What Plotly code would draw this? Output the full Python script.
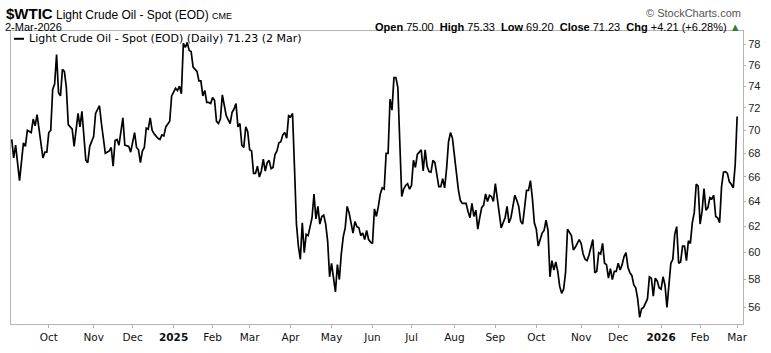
import math
import pandas as pd
import plotly.graph_objects as go

# ---- data ----
holidays = ["2024-11-28", "2024-12-25", "2025-01-01", "2025-01-09", "2025-01-20",
            "2025-02-17", "2025-04-18", "2025-05-26", "2025-06-19", "2025-07-04",
            "2025-09-01", "2025-11-27", "2025-12-25", "2026-01-01", "2026-01-19",
            "2026-02-16"]

# trading-session number counted from 4-Sep-2024 (session 0)
session_idx = [
    0, 1, 2, 4, 6, 7, 8, 10, 11, 12, 13, 16, 17, 18, 19, 20, 21, 22, 23, 24,
    25, 26, 27, 28, 29, 31, 32, 34, 35, 36, 38, 39, 40, 42, 43, 44, 45, 46, 48, 50,
    51, 52, 53, 54, 55, 57, 58, 60, 61, 63, 64, 65, 66, 67, 68, 69, 70, 71, 72, 73,
    74, 75, 76, 77, 78, 79, 81, 82, 84, 85, 86, 87, 88, 89, 90, 91, 92, 93, 95, 96,
    97, 98, 99, 100, 101, 102, 103, 104, 105, 106, 107, 108, 110, 111, 112, 113, 114, 115, 116, 117,
    118, 119, 120, 121, 122, 123, 124, 125, 126, 127, 128, 129, 130, 131, 132, 133, 134, 135, 136, 137,
    138, 139, 140, 141, 142, 143, 144, 145, 146, 147, 148, 149, 150, 151, 152, 154, 155, 156, 157, 158,
    159, 160, 161, 162, 163, 164, 165, 166, 167, 168, 169, 170, 171, 172, 173, 175, 176, 177, 178, 179,
    180, 181, 182, 183, 184, 185, 186, 187, 188, 189, 190, 191, 192, 193, 194, 195, 196, 197, 198, 199,
    200, 201, 202, 203, 204, 205, 206, 207, 208, 209, 210, 211, 212, 213, 214, 215, 216, 217, 218, 219,
    220, 221, 222, 223, 224, 225, 226, 227, 228, 229, 230, 231, 233, 234, 235, 236, 237, 238, 239, 240,
    241, 242, 243, 244, 245, 246, 247, 248, 249, 250, 251, 252, 253, 254, 255, 256, 257, 258, 259, 260,
    261, 262, 263, 264, 265, 266, 267, 268, 269, 270, 271, 272, 273, 274, 275, 276, 277, 278, 279, 280,
    281, 282, 283, 284, 285, 286, 287, 288, 289, 290, 291, 292, 293, 294, 295, 296, 298, 299, 300, 301,
    302, 303, 304, 305, 306, 307, 308, 309, 310, 311, 312, 313, 314, 315, 316, 317, 318, 319, 320, 321,
    322, 323, 324, 326, 327, 328, 329, 330, 331, 332, 333, 334, 335, 336, 337, 338, 339, 340, 341, 342,
    343, 344, 345, 346, 347, 348, 349, 350, 351, 352, 353, 354, 355, 356, 357, 358, 359, 360, 361, 362,
    363, 364, 365, 366, 367, 368, 369, 370, 371, 372,
]

close = [
    69.2, 67.6, 68.7, 65.7, 68.9, 68.6, 70.0, 69.8, 71.0, 70.4, 71.4, 67.6, 68.1, 68.1, 69.8, 70.0, 73.7, 74.2, 77.0, 73.4,
    73.1, 75.6, 75.4, 73.9, 70.5, 70.1, 68.6, 71.5, 70.3, 71.7, 67.4, 67.2, 68.6, 69.45, 71.5, 71.8, 72.2, 70.6, 68.0, 68.2,
    68.5, 66.9, 69.1, 69.2, 68.7, 71.1, 68.7, 68.6, 68.1, 69.8, 68.5, 68.3, 67.2, 68.2, 68.5, 70.2, 70.1, 71.1, 70.0, 69.7,
    69.45, 69.3, 69.2, 69.6, 69.5, 70.3, 70.8, 73.1, 73.8, 73.6, 74.0, 73.3, 78.1, 77.7, 78.2, 77.4, 77.3, 75.8, 75.4, 74.5,
    74.5, 73.1, 73.6, 72.5, 72.5, 72.4, 72.96, 72.7, 70.8, 70.6, 71.0, 73.2, 71.3, 71.0, 70.6, 71.6, 71.9, 72.4, 70.3, 70.6,
    68.7, 68.5, 70.3, 69.9, 68.3, 68.2, 66.3, 66.3, 66.9, 66.0, 66.5, 67.5, 66.5, 67.2, 67.4, 66.7, 66.8, 67.9, 68.2, 68.9,
    69.0, 69.6, 69.8, 69.3, 71.3, 71.2, 71.5, 66.8, 62.2, 60.5, 59.5, 62.3, 60.0, 61.4, 61.3, 62.7, 64.6, 62.6, 63.6, 62.2,
    62.8, 62.9, 62.2, 60.9, 58.2, 59.2, 58.2, 57.1, 59.1, 58.0, 59.9, 61.2, 61.9, 63.6, 63.1, 61.5, 62.4, 62.0, 61.9, 61.3,
    61.5, 61.0, 61.7, 61.0, 60.8, 60.7, 63.4, 62.8, 63.6, 64.6, 65.1, 65.0, 68.0, 68.0, 72.8, 71.8, 74.8, 74.8, 73.9, 68.9,
    64.4, 65.0, 65.3, 65.45, 65.0, 65.3, 67.4, 66.8, 67.9, 68.1, 68.3, 66.5, 68.3, 66.9, 66.45, 66.4, 67.4, 67.2, 66.1, 65.2,
    65.2, 65.85, 65.1, 66.7, 69.0, 69.8, 69.3, 67.5, 66.4, 65.0, 64.1, 63.85, 63.85, 63.2, 62.7, 63.85, 62.8, 63.3, 61.8, 62.7,
    63.5, 63.7, 64.6, 64.0, 64.5, 64.4, 64.0, 65.45, 64.25, 63.5, 61.9, 62.3, 62.7, 63.6, 62.3, 62.7, 63.6, 64.5, 64.1, 63.6,
    62.4, 62.2, 63.5, 64.9, 64.9, 65.7, 64.25, 62.3, 61.8, 60.5, 61.0, 61.5, 61.7, 62.5, 61.7, 58.2, 59.4, 58.7, 59.3, 58.6,
    57.5, 57.0, 57.3, 58.5, 61.8, 61.5, 61.3, 60.2, 60.4, 60.7, 61.0, 60.7, 59.9, 59.5, 59.4, 59.8, 61.0, 58.5, 58.6, 60.0,
    59.9, 60.7, 59.2, 59.1, 58.1, 58.8, 58.0, 58.6, 58.6, 59.2, 58.7, 59.1, 59.7, 60.0, 58.9, 58.5, 58.3, 57.6, 57.4, 56.6,
    55.3, 55.9, 56.0, 56.6, 58.2, 58.1, 56.8, 58.1, 57.9, 57.4, 57.3, 58.2, 57.6, 56.0, 57.9, 59.2, 59.5, 61.4, 62.0, 59.2,
    59.3, 60.5, 60.5, 59.4, 60.9, 60.7, 62.3, 63.1, 65.4, 65.25, 62.2, 63.2, 65.05, 63.3, 63.5, 64.3, 64.2, 64.5, 62.8, 62.7,
    62.3, 65.2, 66.4, 66.45, 66.3, 65.6, 65.4, 65.1, 67.02, 71.23,
]

month_starts = ["2024-10-01", "2024-11-01", "2024-12-02", "2025-01-02", "2025-02-03",
                "2025-03-03", "2025-04-01", "2025-05-01", "2025-06-02", "2025-07-01",
                "2025-08-01", "2025-09-02", "2025-10-01", "2025-11-03", "2025-12-01",
                "2026-01-02", "2026-02-02", "2026-03-02"]
month_labels = ["Oct", "Nov", "Dec", "<b>2025</b>", "Feb", "Mar", "Apr", "May", "Jun",
                "Jul", "Aug", "Sep", "Oct", "Nov", "Dec", "<b>2026</b>", "Feb", "Mar"]

price_ticks = [56, 58, 60, 62, 64, 66, 68, 70, 72, 74, 76, 78]
price_labels = [str(v) for v in price_ticks]

# ---- build ----
sessions = pd.bdate_range("2024-09-04", "2026-03-02", freq="C", holidays=holidays)
dates = sessions[session_idx]

W, H = 771, 353
ML, MR, MT, MB = 10, 28, 31, 21
PW, PH = W - ML - MR, H - MT - MB


def px(xp):
    return (xp - ML) / PW


def py(yp):
    return (H - MB - yp) / PH


fig = go.Figure()
fig.add_trace(go.Scatter(x=dates, y=close, mode="lines",
                         line=dict(color="#000000", width=1.7),
                         hoverinfo="x+y", showlegend=False))

border = "#b4b4b4"
fig.update_layout(
    width=W, height=H,
    margin=dict(l=ML, r=MR, t=MT, b=MB, pad=0),
    paper_bgcolor="white", plot_bgcolor="white",
    showlegend=False,
    xaxis=dict(
        type="date",
        range=["2024-09-03 15:00", "2026-03-05 00:00"],
        rangebreaks=[dict(bounds=["sat", "mon"]), dict(values=holidays)],
        tickmode="array", tickvals=month_starts, ticktext=month_labels,
        ticks="outside", ticklen=3, tickcolor=border,
        tickfont=dict(family="DejaVu Sans", size=10.5, color="#111"),
        showgrid=False, zeroline=False,
        showline=True, linecolor=border, linewidth=1, mirror=True,
    ),
    yaxis=dict(
        type="log", side="right",
        range=[math.log10(54.84), math.log10(79.33)],
        tickmode="array", tickvals=price_ticks, ticktext=price_labels,
        ticks="outside", ticklen=2, tickcolor=border,
        tickfont=dict(family="Liberation Sans, Arial", size=11, color="#222"),
        showgrid=False, zeroline=False,
        showline=True, linecolor=border, linewidth=1, mirror=True,
    ),
)

narrow = "Liberation Sans Narrow, Liberation Sans, Arial"
ann = []
ann.append(dict(xref="paper", yref="paper", x=px(3), y=py(13), xanchor="left", yanchor="middle",
                showarrow=False,
                text="<b><span style='font-family:Liberation Sans, Arial;font-size:15px'>$WTIC</span></b> "
                     "<span style='font-size:12px'>Light Crude Oil - Spot (EOD)</span> "
                     "<span style='font-size:9px'>CME</span>",
                font=dict(family=narrow, size=12, color="#000")))
ann.append(dict(xref="paper", yref="paper", x=px(2), y=py(26.5), xanchor="left", yanchor="middle",
                showarrow=False, text="2-Mar-2026",
                font=dict(family=narrow, size=11, color="#000")))
ann.append(dict(xref="paper", yref="paper", x=px(743), y=py(13), xanchor="right", yanchor="middle",
                showarrow=False, text="© StockCharts.com",
                font=dict(family=narrow, size=11, color="#555")))
ann.append(dict(xref="paper", yref="paper", x=px(743), y=py(26.5), xanchor="right", yanchor="middle",
                showarrow=False,
                text="<b>Open</b> 75.00  <b>High</b> 75.33  <b>Low</b> 69.20  <b>Close</b> 71.23  "
                     "<b>Chg</b> +4.21 (+6.28%) <span style='color:#2e7d32'>▲</span>",
                font=dict(family=narrow, size=11, color="#000")))
ann.append(dict(xref="paper", yref="paper", x=px(26), y=py(39), xanchor="left", yanchor="middle",
                showarrow=False, text="Light Crude Oil - Spot (EOD) (Daily) 71.23 (2 Mar)",
                font=dict(family="DejaVu Sans", size=11, color="#000")))
fig.update_layout(annotations=ann)
fig.add_shape(type="line", xref="paper", yref="paper", x0=px(13), x1=px(23), y0=py(39), y1=py(39),
              line=dict(color="#000", width=2))

fig.write_html("out.html")
